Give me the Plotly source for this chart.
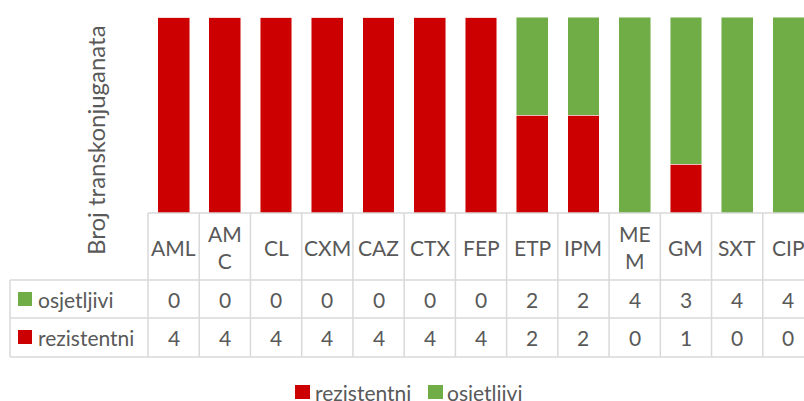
import plotly.graph_objects as go

categories = ["AML", "AMC", "CL", "CXM", "CAZ", "CTX", "FEP", "ETP", "IPM", "MEM", "GM", "SXT", "CIP"]
header_labels = ["AML", "AM<br>C", "CL", "CXM", "CAZ", "CTX", "FEP", "ETP", "IPM", "ME<br>M", "GM", "SXT", "CIP"]
rezistentni = [4, 4, 4, 4, 4, 4, 4, 2, 2, 0, 1, 0, 0]
osjetljivi = [0, 0, 0, 0, 0, 0, 0, 2, 2, 4, 3, 4, 4]
series_names = ["rezistentni", "osjetljivi"]
y_title = "Broj transkonjuganata"
RED = "#CC0000"
GREEN = "#70AD47"
TXT = "#595959"
GRID = "#D9D9D9"
FONT = "Lato"

W, H = 804, 401
L, R, T, B = 148, 0, 17, 188
PW = W - L - R
PH = H - T - B
n = len(categories)
xmin, xmax = -0.5, n - 0.5 - 10 / 51.25

def px_x(px):
    return (px - L) / PW

def px_y(py):
    return (T + PH - py) / PH

def idx_x(i):
    return (i - xmin) / (xmax - xmin)

fig = go.Figure()
fig.add_trace(go.Bar(x=categories, y=rezistentni, name=series_names[0],
                     marker=dict(color=RED, line=dict(color="rgba(255,255,255,0.6)", width=0.8))))
fig.add_trace(go.Bar(x=categories, y=osjetljivi, name=series_names[1],
                     marker=dict(color=GREEN, line=dict(color="rgba(255,255,255,0.6)", width=0.8))))

shapes = []
line = dict(color=GRID, width=1.5)
y_head_top = px_y(213)
y_row1 = px_y(280)
y_row2 = px_y(318)
y_bot = px_y(357)
shapes.append(dict(type="line", xref="paper", yref="paper", x0=0, x1=1, y0=y_head_top, y1=y_head_top, line=line))
for yy in (y_row1, y_row2, y_bot):
    shapes.append(dict(type="line", xref="paper", yref="paper", x0=px_x(10), x1=1, y0=yy, y1=yy, line=line))
shapes.append(dict(type="line", xref="paper", yref="paper", x0=px_x(10), x1=px_x(10), y0=y_row1, y1=y_bot, line=line))
for i in range(n):
    xx = idx_x(i - 0.5)
    shapes.append(dict(type="line", xref="paper", yref="paper", x0=xx, x1=xx, y0=y_head_top, y1=y_bot, line=line))
# legend keys in table
for yc, col in ((299, GREEN), (337, RED)):
    shapes.append(dict(type="rect", xref="paper", yref="paper", x0=px_x(18), x1=px_x(32),
                       y0=px_y(yc + 7), y1=px_y(yc - 7), fillcolor=col, line=dict(width=0)))
# bottom legend keys
for x0, col in ((295, RED), (428, GREEN)):
    shapes.append(dict(type="rect", xref="paper", yref="paper", x0=px_x(x0), x1=px_x(x0 + 15),
                       y0=px_y(399), y1=px_y(385), fillcolor=col, line=dict(width=0)))

ann = []
fs = 21
tfont = dict(family=FONT, size=fs, color=TXT)
for i, lab in enumerate(header_labels):
    ann.append(dict(x=categories[i], xref="x", yref="paper", y=px_y(247), text=lab, showarrow=False,
                    font=tfont, yanchor="middle", xanchor="center"))
    ann.append(dict(x=categories[i], xref="x", yref="paper", y=px_y(299), text=str(osjetljivi[i]), showarrow=False,
                    font=tfont, yanchor="middle", xanchor="center"))
    ann.append(dict(x=categories[i], xref="x", yref="paper", y=px_y(337), text=str(rezistentni[i]), showarrow=False,
                    font=tfont, yanchor="middle", xanchor="center"))
ann.append(dict(x=px_x(36), xref="paper", yref="paper", y=px_y(299), text=series_names[1], showarrow=False,
                font=tfont, yanchor="middle", xanchor="left"))
ann.append(dict(x=px_x(36), xref="paper", yref="paper", y=px_y(337), text=series_names[0], showarrow=False,
                font=tfont, yanchor="middle", xanchor="left"))
ann.append(dict(x=px_x(313), xref="paper", yref="paper", y=px_y(392), text=series_names[0], showarrow=False,
                font=tfont, yanchor="middle", xanchor="left"))
ann.append(dict(x=px_x(445), xref="paper", yref="paper", y=px_y(392), text=series_names[1], showarrow=False,
                font=tfont, yanchor="middle", xanchor="left"))
ann.append(dict(x=px_x(95), xref="paper", yref="paper", y=px_y(140), text=y_title, showarrow=False,
                textangle=-90, font=dict(family=FONT, size=24, color=TXT), yanchor="middle", xanchor="center"))

fig.update_layout(
    width=W, height=H, barmode="stack", bargap=0.38,
    margin=dict(l=L, r=R, t=T, b=B),
    paper_bgcolor="white", plot_bgcolor="white",
    xaxis=dict(range=[xmin, xmax], showticklabels=False, showgrid=False, zeroline=False, showline=False, ticks=""),
    yaxis=dict(range=[0, 4], showticklabels=False, showgrid=False, zeroline=False, showline=False, ticks=""),
    shapes=shapes, annotations=ann,
    showlegend=False,
)
fig.write_html("out.html", config={"displayModeBar": False},
               post_script="document.body.style.margin='0';document.body.style.overflow='hidden';")
